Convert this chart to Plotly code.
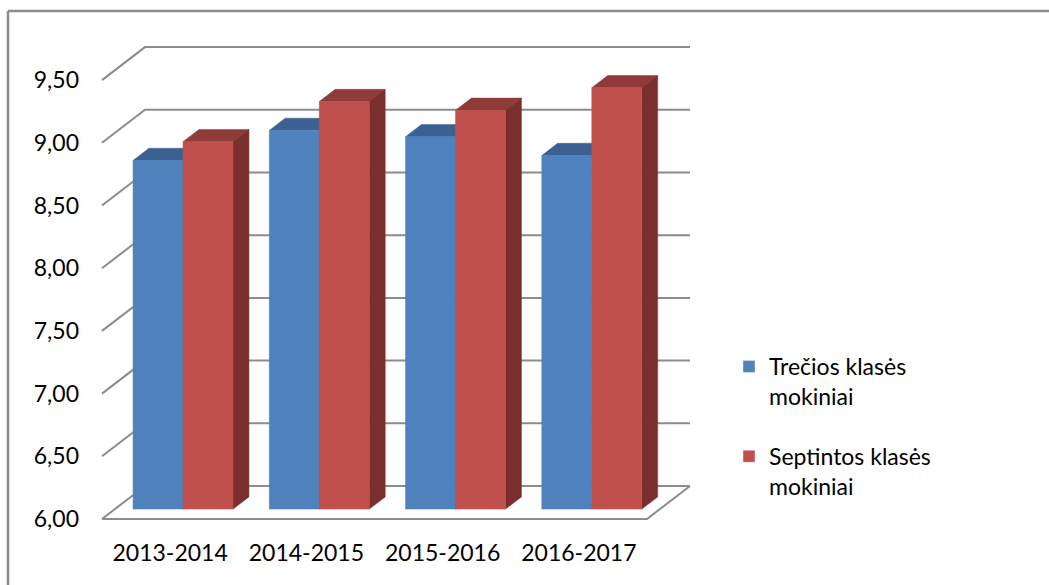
import plotly.graph_objects as go

# ---- data ----
categories = ["2013-2014", "2014-2015", "2015-2016", "2016-2017"]
series_names = ["Trečios klasės<br>mokiniai", "Septintos klasės<br>mokiniai"]
trecios = [8.78, 9.02, 8.97, 8.82]
septintos = [8.93, 9.25, 9.18, 9.36]
y_ticks = [6.0, 6.5, 7.0, 7.5, 8.0, 8.5, 9.0, 9.5]

# ---- styling / geometry (pixel scale of axes) ----
W, H = 1049, 585
ML, MR, MT, MB = 100, 0, 5, 60
PW, PH = W - ML - MR, H - MT - MB
PX = 136.25      # px per category unit
PY = 125.4       # px per value unit
Y0 = 6.0
x_lo = -0.5 - 2 / PX
x_hi = x_lo + PW / PX
y_lo = Y0 - 6 / PY
y_hi = y_lo + PH / PY

DXF, DYF = 43 / PX, 33 / PY          # full depth of the 3D box
fx, fy = 0.3 * DXF, 0.3 * DYF        # bar front plane offset
bx, by = 0.37 * DXF, 0.37 * DYF      # bar depth
bw = 50 / PX                         # bar width

grid_col = "#8c8c8c"
cols = {
    0: dict(front="#4F81BD", top="#3B6192", side="#2F4F78"),
    1: dict(front="#C0504D", top="#8F3B39", side="#7A2E2D"),
}
font_family = "Lato, 'Liberation Sans', sans-serif"


def px_x(p):
    return (p - ML) / PW


def px_y(p):
    return (H - MB - p) / PH


fig = go.Figure()

# back-wall gridlines with diagonal to the front
n = len(categories)
xl, xr = -0.5, n - 0.5
for v in y_ticks:
    fig.add_trace(go.Scatter(
        x=[xl, xl + DXF, xr + DXF], y=[v, v + DYF, v + DYF],
        mode="lines", line=dict(color=grid_col, width=2),
        hoverinfo="skip", showlegend=False))
# floor front and right edge
fig.add_trace(go.Scatter(
    x=[xl, xr, xr + DXF], y=[Y0, Y0, Y0 + DYF],
    mode="lines", line=dict(color=grid_col, width=2),
    hoverinfo="skip", showlegend=False))


def poly(xs, ys, color):
    fig.add_trace(go.Scatter(
        x=xs + [xs[0]], y=ys + [ys[0]], fill="toself", fillcolor=color,
        mode="lines", line=dict(width=0.5, color=color),
        hoverinfo="skip", showlegend=False))


# bars (top, side, front faces drawn in order)
for s, vals in enumerate([trecios, septintos]):
    c = cols[s]
    centers = [i + fx + (s - 0.5) * bw for i in range(n)]
    b = Y0 + fy
    for xc, v in zip(centers, vals):
        x0, x1 = xc - bw / 2, xc + bw / 2
        t = v + fy
        poly([x0, x1, x1 + bx, x0 + bx], [t, t, t + by, t + by], c["top"])
        poly([x1, x1, x1 + bx, x1 + bx], [b, t, t + by, b + by], c["side"])
        poly([x0, x1, x1, x0], [b, b, t, t], c["front"])

# legend entries
for s in range(2):
    fig.add_trace(go.Bar(
        x=[x_hi + 5], y=[1], base=Y0, marker=dict(color=cols[s]["front"]),
        name=series_names[s], legendgroup=str(s), showlegend=True,
        hoverinfo="skip"))

# chart border (top and left edges visible)
fig.add_shape(type="line", xref="paper", yref="paper",
              x0=px_x(8), x1=px_x(W + 10), y0=px_y(11), y1=px_y(11),
              line=dict(color="#8c8c8c", width=2.5))
fig.add_shape(type="line", xref="paper", yref="paper",
              x0=px_x(8), x1=px_x(8), y0=px_y(11), y1=px_y(H + 10),
              line=dict(color="#8c8c8c", width=2.5))

fig.update_layout(
    width=W, height=H,
    margin=dict(l=ML, r=MR, t=MT, b=MB, autoexpand=False),
    paper_bgcolor="white", plot_bgcolor="white",
    separators=",.",
    font=dict(family=font_family, size=23, color="#000000"),
    xaxis=dict(range=[x_lo, x_hi], tickmode="array",
               tickvals=list(range(n)), ticktext=categories,
               showgrid=False, zeroline=False, showline=False, ticks="",
               ticklabelstandoff=12, fixedrange=True, automargin=False),
    yaxis=dict(range=[y_lo, y_hi], tickmode="array", tickvals=y_ticks,
               tickformat=".2f", showgrid=False, zeroline=False,
               showline=False, ticks="", ticklabelstandoff=20, fixedrange=True,
               automargin=False),
    legend=dict(x=px_x(729), xanchor="left",
                y=px_y(345), yanchor="top",
                traceorder="grouped", tracegroupgap=27, valign="top",
                font=dict(family=font_family, size=23, color="#000000"),
                bgcolor="rgba(0,0,0,0)"),
    showlegend=True,
)

fig.write_html(
    "out.html",
    config={"displayModeBar": False, "staticPlot": True},
    post_script="document.body.style.margin='0';document.body.style.overflow='hidden';",
)
